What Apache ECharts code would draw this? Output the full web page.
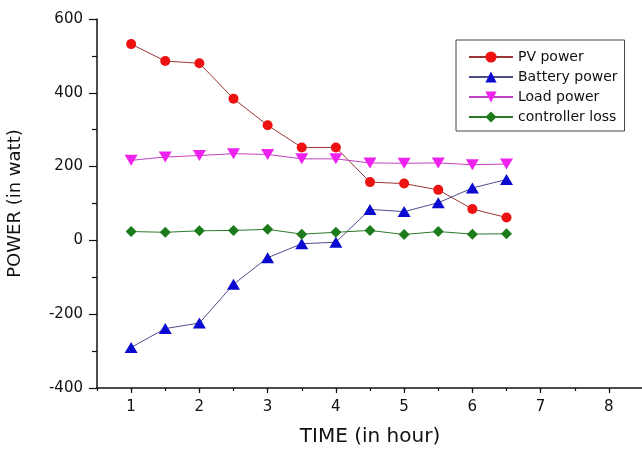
<!DOCTYPE html>
<html lang="en">
<head>
    <meta charset="UTF-8">
    <title>Power vs time</title>
    <script src="https://cdn.jsdelivr.net/npm/echarts@6/dist/echarts.min.js"></script>
    <style>
        html, body { margin: 0; padding: 0; background: #fff; }
        #chart { width: 642px; height: 449px; }
    </style>
</head>
<body>
<div id="chart"></div>
<script type="text/javascript">
    // data
    var hours = [1, 1.5, 2, 2.5, 3, 3.5, 4, 4.5, 5, 5.5, 6, 6.5];
    var pvPower = [532, 486, 480, 384, 312, 252, 252, 158, 154, 137, 85, 62];
    var batteryPower = [-290, -239, -224, -119, -47, -9, -5, 84, 78, 102, 142, 165];
    var loadPower = [217, 226, 230, 235, 233, 221, 221, 210, 209, 210, 205, 207];
    var controllerLoss = [24, 22, 26, 27, 30, 17, 22, 27, 16, 24, 17, 18];
    var hourTicks = [1, 2, 3, 4, 5, 6, 7, 8];

    function pairs(vals) {
        return hours.map(function (h, i) { return [h, vals[i]]; });
    }

    var chart = echarts.init(document.getElementById('chart'));
    var font = 'DejaVu Sans, sans-serif';

    function mkSeries(name, vals, lineColor, markColor, symbol, size, rotate) {
        return {
            name: name,
            type: 'line',
            xAxisIndex: 0,
            data: pairs(vals),
            symbol: symbol,
            symbolSize: size,
            symbolRotate: rotate || 0,
            lineStyle: { color: lineColor, width: 1 },
            itemStyle: { color: markColor },
            animation: false
        };
    }

    chart.setOption({
        animation: false,
        grid: { left: 97, top: 19, width: 546, height: 369, outerBoundsMode: 'none', containLabel: false },
        legend: {
            orient: 'vertical',
            left: 456,
            top: 40,
            padding: [10, 7, 7, 12],
            itemWidth: 44,
            itemHeight: 14,
            itemGap: 6,
            borderColor: '#444',
            borderWidth: 1,
            borderRadius: 0,
            textStyle: { fontFamily: font, fontSize: 14, color: '#111' },
            data: ['PV power', 'Battery power', 'Load power', 'controller loss']
        },
        xAxis: [{
            type: 'value',
            min: 0.5,
            max: 8.5,
            interval: 0.5,
            name: 'TIME (in hour)',
            nameLocation: 'middle',
            nameGap: 39,
            nameTextStyle: { fontFamily: font, fontSize: 20, color: '#111' },
            axisLine: { onZero: false, lineStyle: { color: '#111', width: 1.5 } },
            axisTick: { length: 3, lineStyle: { color: '#111', width: 1.2 } },
            axisLabel: {
                fontFamily: font, fontSize: 15, color: '#111', margin: 12,
                formatter: function (v) { return v % 1 === 0 ? v : ''; }
            },
            splitLine: { show: false }
        }, {
            // second axis only for the longer ticks at whole hours
            type: 'value',
            position: 'bottom',
            min: 0.5,
            max: 8.5,
            axisLine: { show: false, onZero: false },
            axisTick: { show: true, length: 5, customValues: hourTicks, lineStyle: { color: '#111', width: 1.2 } },
            axisLabel: { show: false },
            splitLine: { show: false }
        }],
        yAxis: {
            type: 'value',
            min: -400,
            max: 600,
            interval: 200,
            name: 'POWER (in watt)',
            nameLocation: 'middle',
            nameGap: 73,
            nameTextStyle: { fontFamily: font, fontSize: 18, color: '#111' },
            axisLine: { show: true, lineStyle: { color: '#111', width: 1.5 } },
            axisTick: { show: true, length: 8, lineStyle: { color: '#111', width: 1.2 } },
            minorTick: { show: true, splitNumber: 2, length: 5, lineStyle: { color: '#111', width: 1.2 } },
            axisLabel: { fontFamily: font, fontSize: 15, color: '#111', margin: 14 },
            splitLine: { show: false }
        },
        series: [
            mkSeries('PV power', pvPower, '#9a3535', '#ee1111', 'circle', 10),
            mkSeries('Battery power', batteryPower, '#4d4d8c', '#0a0ad0', 'triangle', [13, 11]),
            mkSeries('Load power', loadPower, '#c040c0', '#ee22ee', 'triangle', [13, 11], 180),
            mkSeries('controller loss', controllerLoss, '#2a7a2a', '#1c7c1c', 'diamond', 11)
        ]
    });
</script>
</body>
</html>
